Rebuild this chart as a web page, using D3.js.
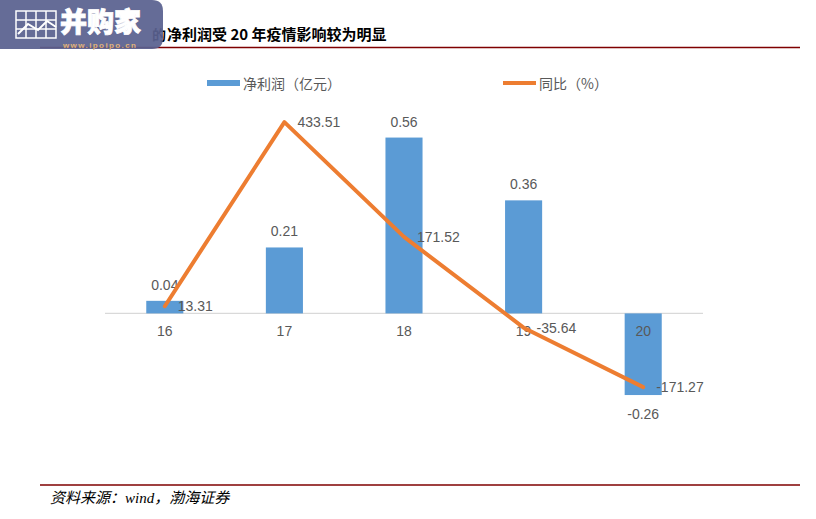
<!DOCTYPE html>
<html><head><meta charset="utf-8">
<script src="https://cdn.jsdelivr.net/npm/d3@7"></script>
<style>body{margin:0;background:#fff}svg{display:block}</style>
</head><body>
<script>
const categories = ["16","17","18","19","20"];
const profit = [0.04, 0.21, 0.56, 0.36, -0.26];
const growth = [13.31, 433.51, 171.52, -35.64, -171.27];
const profitLabels = ["0.04","0.21","0.56","0.36","-0.26"];
const growthLabels = ["13.31","433.51","171.52","-35.64","-171.27"];
const legendNames = ["净利润（亿元）","同比（%）"];
const titleHidden = "的";
const titleText = "净利润受 20 年疫情影响较为明显";
const sourceText = "资料来源：wind，渤海证券";

const W = 816, H = 519;
const svg = d3.select("body").append("svg").attr("width", W).attr("height", H);
const cjk = "'Noto Sans CJK SC','Liberation Sans',sans-serif";
const numFont = "'Liberation Sans','Noto Sans CJK SC',sans-serif";
const gray = "#595959";

// header
svg.append("text").attr("x", 166).attr("y", 40).attr("text-anchor", "end")
  .attr("font-family", cjk).attr("font-weight", "bold").attr("font-size", 14).attr("fill", "#000").text(titleHidden);
svg.append("text").attr("x", 167).attr("y", 40)
  .attr("font-family", cjk).attr("font-weight", "bold").attr("font-size", 15).attr("fill", "#000").text(titleText);
svg.append("line").attr("x1", 40).attr("x2", 800).attr("y1", 47.5).attr("y2", 47.5).attr("stroke", "#7f0000").attr("stroke-width", 1.5);

// logo
const logo = svg.append("g").attr("opacity", 0.93);
logo.append("path").attr("d", "M0,0 H152 Q163,0 163,11 V38 Q163,49 152,49 H0 Z").attr("fill", "#5a6190");
const gi = logo.append("g").attr("stroke", "#fff").attr("stroke-width", 1.5).attr("fill", "none");
gi.append("rect").attr("x", 16).attr("y", 11).attr("width", 40).attr("height", 27);
[26, 36, 46].forEach(x => gi.append("line").attr("x1", x).attr("x2", x).attr("y1", 11).attr("y2", 38));
[20, 29].forEach(y => gi.append("line").attr("x1", 16).attr("x2", 56).attr("y1", y).attr("y2", y));
gi.append("polyline").attr("points", "18,34 28,24 38,30 47,21 56,27").attr("stroke-width", 2);
logo.append("text").attr("x", 60).attr("y", 32).attr("font-family", cjk).attr("font-weight", "900")
  .attr("font-size", 27).attr("fill", "#fff").attr("stroke", "#fff").attr("stroke-width", 0.8).text("并购家");
logo.append("text").attr("x", 63).attr("y", 47.5).attr("font-family", numFont).attr("font-weight", "bold")
  .attr("font-size", 8).attr("letter-spacing", 1.4).attr("fill", "#e0b070").text("www.ipoipo.cn");

// footer
svg.append("line").attr("x1", 40).attr("x2", 800).attr("y1", 485).attr("y2", 485).attr("stroke", "#7f0000").attr("stroke-width", 1.5);
svg.append("text").attr("x", 50).attr("y", 503).attr("font-family", "'Liberation Serif','Noto Sans CJK SC',serif")
  .attr("font-style", "italic").attr("font-size", 15).attr("fill", "#000").text(sourceText);

// scales
const x = d3.scaleBand().domain(categories).range([105, 703]).paddingInner(0.69).paddingOuter(0.345);
const yBar = d3.scaleLinear().domain([-0.4, 0.6]).range([439, 125]);
const yLine = d3.scaleLinear().domain([-300, 500]).range([443.5, 93]);
const cx = c => x(c) + x.bandwidth() / 2;

// zero line
svg.append("line").attr("x1", 105).attr("x2", 703).attr("y1", yBar(0)).attr("y2", yBar(0)).attr("stroke", "#d9d9d9").attr("stroke-width", 1.2);

// bars
svg.selectAll(".bar").data(profit).join("rect")
  .attr("x", (d, i) => x(categories[i])).attr("width", x.bandwidth())
  .attr("y", d => yBar(Math.max(0, d))).attr("height", d => Math.abs(yBar(d) - yBar(0)))
  .attr("fill", "#5b9bd5");

// category labels
svg.selectAll(".cat").data(categories).join("text")
  .attr("x", d => cx(d)).attr("y", 336).attr("text-anchor", "middle")
  .attr("font-family", numFont).attr("font-size", 14).attr("fill", gray).text(d => d);

// bar labels
svg.selectAll(".bl").data(profit).join("text")
  .attr("x", (d, i) => cx(categories[i]))
  .attr("y", d => d >= 0 ? yBar(d) - 11 : yBar(d) + 24)
  .attr("text-anchor", "middle").attr("font-family", numFont).attr("font-size", 14).attr("fill", gray)
  .text((d, i) => profitLabels[i]);

// line
const line = d3.line().x((d, i) => cx(categories[i])).y(d => yLine(d));
svg.append("path").datum(growth).attr("d", line).attr("fill", "none")
  .attr("stroke", "#ed7d31").attr("stroke-width", 4).attr("stroke-linejoin", "round").attr("stroke-linecap", "round");

// line labels
svg.selectAll(".ll").data(growth).join("text")
  .attr("x", (d, i) => cx(categories[i]) + 13).attr("y", d => yLine(d) + 5)
  .attr("font-family", numFont).attr("font-size", 14).attr("fill", gray)
  .text((d, i) => growthLabels[i]);

// legend
svg.append("rect").attr("x", 207).attr("y", 80).attr("width", 33).attr("height", 6).attr("fill", "#5b9bd5");
svg.append("text").attr("x", 243).attr("y", 89).attr("font-family", cjk).attr("font-size", 14).attr("fill", gray).text(legendNames[0]);
svg.append("line").attr("x1", 503).attr("x2", 536).attr("y1", 83).attr("y2", 83).attr("stroke", "#ed7d31").attr("stroke-width", 4);
svg.append("text").attr("x", 539).attr("y", 89).attr("font-family", cjk).attr("font-size", 14).attr("fill", gray).text(legendNames[1]);
</script>
</body></html>
